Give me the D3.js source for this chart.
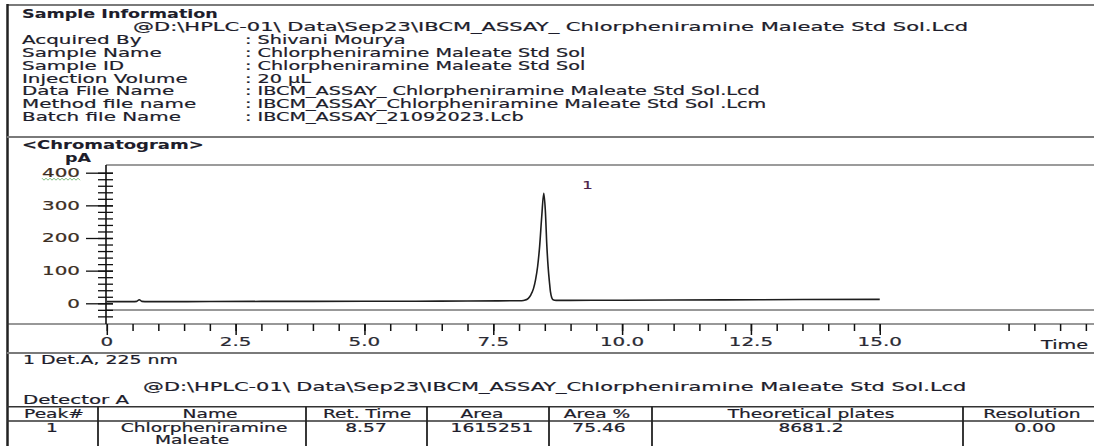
<!DOCTYPE html>
<html><head><meta charset="utf-8">
<script src="https://cdn.jsdelivr.net/npm/d3@7"></script>
<style>html,body{margin:0;padding:0;background:#fff;overflow:hidden}</style>
</head><body>
<svg id="c" width="1094" height="446"></svg>
<script>
// ---------- data ----------
const sampleTitle = "Sample Information";
const samplePath = "@D:\\HPLC-01\\ Data\\Sep23\\IBCM_ASSAY_ Chlorpheniramine Maleate Std Sol.Lcd";
const infoLabels = ["Acquired By","Sample Name","Sample ID","Injection Volume","Data File Name","Method file name","Batch file Name"];
const infoValues = [": Shivani Mourya",": Chlorpheniramine Maleate Std Sol",": Chlorpheniramine Maleate Std Sol",": 20 µL",": IBCM_ASSAY_ Chlorpheniramine Maleate Std Sol.Lcd",": IBCM_ASSAY_Chlorpheniramine Maleate Std Sol .Lcm",": IBCM_ASSAY_21092023.Lcb"];
const chromTitle = "<Chromatogram>";
const yUnit = "pA";
const xUnit = "Time";
const yTicks = [0,100,200,300,400];
const yTickLabels = ["0","100","200","300","400"];
const xTicks = [0,2.5,5,7.5,10,12.5,15];
const xTickLabels = ["0","2.5","5.0","7.5","10.0","12.5","15.0"];
const xMinorExtra = [17.5,18,18.5,19];
const traceTime   = [0,0.5,0.58,0.63,0.68,0.8,2,4,6,7,7.6,8.05,8.12,8.18,8.23,8.28,8.32,8.36,8.40,8.44,8.48,8.51,8.54,8.565,8.59,8.61,8.635,8.66,8.72,9,10,12,13.5,15];
const traceSignal = [5,5,6,11,6,5,5.5,6,6.5,7,7.5,8,10,15,26,45,72,112,175,265,337,285,175,110,65,35,17,11,9,9,9.5,10.5,11.5,12];
const peakTimes = [8.57];
const peakLabels = ["1"];
const detLabel = "1 Det.A, 225 nm";
const resultPath = "@D:\\HPLC-01\\ Data\\Sep23\\IBCM_ASSAY_Chlorpheniramine Maleate Std Sol.Lcd";
const detectorName = "Detector A";
const tableHeaders = ["Peak#","Name","Ret. Time","Area","Area %","Theoretical plates","Resolution"];
const tableRow1 = ["1","Chlorpheniramine","8.57","1615251","75.46","8681.2","0.00"];
const tableRow2 = ["","Maleate","","","","",""];

// ---------- drawing ----------
const svg = d3.select("#c");
const FONT = "DejaVu Sans, Verdana, sans-serif";
const TXT = "#1d1d2b";

function txt(x, y, s, o = {}) {
  const size = o.size || 12, k = o.k || 1.62;
  const g = svg.append("g");
  const fill = o.fill || TXT;
  const t = g.append("text").text(s)
    .attr("x", 0).attr("y", 0)
    .attr("font-family", FONT).attr("font-size", size)
    .attr("font-weight", o.bold ? "bold" : "normal")
    .attr("fill", fill)
    .attr("stroke", fill).attr("stroke-width", o.bold ? 0.1 : 0.2)
    .attr("text-anchor", o.anchor || "start");
  let sx = k;
  if (o.w) { sx = o.w / t.node().getComputedTextLength(); }
  g.attr("transform", `translate(${x},${y + size * 0.36}) scale(${sx},1)`);
  return g;
}
function hline(x1, x2, y, c, w) {
  svg.append("line").attr("x1", x1).attr("x2", x2).attr("y1", y).attr("y2", y)
    .attr("stroke", c).attr("stroke-width", w);
}
function vline(x, y1, y2, c, w) {
  svg.append("line").attr("x1", x).attr("x2", x).attr("y1", y1).attr("y2", y2)
    .attr("stroke", c).attr("stroke-width", w);
}

// frame
hline(7, 1094, 5, "#7a7a7a", 2);
vline(7.5, 4, 446, "#222", 2.5);
hline(7, 1094, 137, "#7a7a7a", 2);
hline(7, 1094, 353, "#7a7a7a", 2);

// info section
txt(22, 13.8, sampleTitle, {bold: true, w: 196});
txt(133, 26.6, samplePath, {w: 836});
const infoY = [39.5, 52.5, 65.3, 78.2, 91, 103.8, 116.6];
infoLabels.forEach((s, i) => txt(22, infoY[i], s, {k: 1.66}));
infoValues.forEach((s, i) => txt(245, infoY[i], s, {k: 1.6}));

// chromatogram section
txt(22, 145, chromTitle, {bold: true, w: 182});
txt(78, 158, yUnit, {bold: true, anchor: "middle", w: 26});

const x = d3.scaleLinear().domain([0, 15]).range([106.8, 106.8 + 51.53 * 15]);
const y = d3.scaleLinear().domain([0, 400]).range([303.3, 172.7]);

// plot frame lines
hline(106, 1094, 165, "#7a7a7a", 1.5);
hline(106, 1094, 310, "#333", 1);
hline(7, 1094, 324, "#333", 1.2);

// y axis
const yAxisG = svg.append("g").attr("transform", "translate(106,0)");
yAxisG.call(d3.axisLeft(y).tickValues(yTicks).tickSize(20).tickFormat(""))
  .call(g => g.select(".domain").remove())
  .call(g => g.selectAll("line").attr("stroke", "#111").attr("stroke-width", 1.3).attr("x2", -20).attr("x1", 7));
const minorY = d3.range(-40, 401, 20);
const yMinorG = svg.append("g").attr("transform", "translate(106,0)");
yMinorG.call(d3.axisLeft(y).tickValues(minorY).tickSize(8).tickFormat(""))
  .call(g => g.select(".domain").remove())
  .call(g => g.selectAll("line").attr("stroke", "#111").attr("stroke-width", 1.3).attr("x1", 7));
vline(106, 165, 324, "#111", 1.6);
yTicks.forEach((v, i) => txt(80, y(v), yTickLabels[i], {anchor: "end", k: 1.66, fill: "#3b2d22"}));
// spell-check squiggle under 400 as in the source image
const sq = d3.range(0, 20).map(i => [42 + i * 2, y(400) + 6.5 + (i % 2 ? 1 : -1)]);
svg.append("path").attr("d", d3.line()(sq)).attr("fill", "none").attr("stroke", "#6fb56f").attr("stroke-width", 0.9);

// x axis
const minorX = d3.range(0, 15.01, 0.5).concat(xMinorExtra);
const xMinorG = svg.append("g").attr("transform", "translate(0,324)");
xMinorG.call(d3.axisBottom(x).tickValues(minorX).tickSize(7).tickFormat(""))
  .call(g => g.select(".domain").remove())
  .call(g => g.selectAll("line").attr("stroke", "#111").attr("stroke-width", 1.5));
const xMajorG = svg.append("g").attr("transform", "translate(0,324)");
xMajorG.call(d3.axisBottom(x).tickValues(xTicks).tickSize(11).tickFormat(""))
  .call(g => g.select(".domain").remove())
  .call(g => g.selectAll("line").attr("stroke", "#111").attr("stroke-width", 1.5));
xTicks.forEach((v, i) => txt(x(v), 341.7, xTickLabels[i], {anchor: "middle", k: 1.66, fill: "#2a2a33"}));
txt(1088, 344.5, xUnit, {anchor: "end", w: 47});

// trace
const pts = traceTime.map((t, i) => [t, traceSignal[i]]);
svg.append("path")
  .attr("d", d3.line().x(d => x(d[0])).y(d => y(d[1])).curve(d3.curveMonotoneX)(pts))
  .attr("fill", "none").attr("stroke", "#1e1e1e").attr("stroke-width", 1.6);
peakTimes.forEach((t, i) => txt(x(t) + 39, y(400) + 12.5, peakLabels[i], {anchor: "middle", k: 1.5, fill: "#4a2248", size: 11}));

// results
txt(23, 360, detLabel, {w: 155});
txt(143, 386.7, resultPath, {w: 824});
txt(23, 400, detectorName, {w: 106});

// table
const colX = [7.5, 98, 306, 427, 549, 652, 963];
hline(7, 1094, 406.7, "#333", 1.5);
hline(7, 1094, 421, "#333", 1.5);
colX.slice(1).forEach(cx => vline(cx, 406.7, 446, "#222", 1.8));
const headCx = [54, 210, 367, 482, 597, 811, 1032];
const rowCx  = [52, 204, 366, 492, 599, 811, 1035];
tableHeaders.forEach((s, i) => txt(headCx[i], 413.6, s, {anchor: "middle", size: 11.5, k: 1.62}));
tableRow1.forEach((s, i) => txt(rowCx[i], 427.8, s, {anchor: "middle", size: 11.5, k: 1.62}));
tableRow2.forEach((s, i) => { if (s) txt(rowCx[i] - 12, 439.6, s, {anchor: "middle", size: 11.5, k: 1.62}); });
</script>
</body></html>
